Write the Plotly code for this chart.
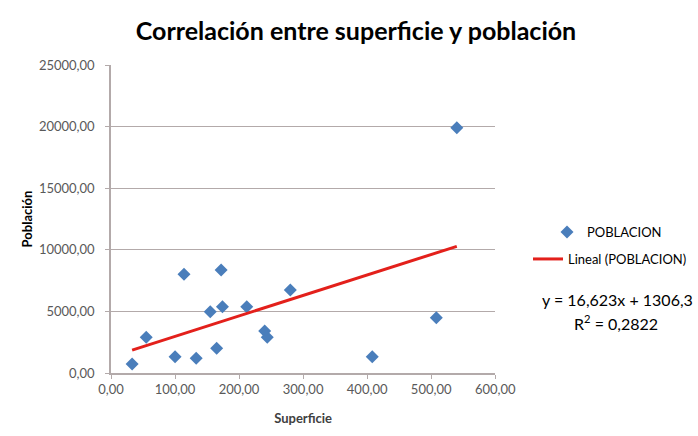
import plotly.graph_objects as go

# Data
superficie = [33, 55, 100, 133, 114, 172, 165, 155, 174, 212, 240, 244, 280, 508, 408, 540]
poblacion = [730, 2900, 1320, 1190, 8010, 8360, 2000, 4980, 5380, 5380, 3410, 2900, 6740, 4490, 1320, 19900]

trend_slope = 16.623
trend_intercept = 1306.3
r_squared = 0.2822

x_ticks = [0, 100, 200, 300, 400, 500, 600]
y_ticks = [0, 5000, 10000, 15000, 20000, 25000]

FONT = "Lato"
GRID = "#b3aaaa"
TICKC = "#595959"

trend_x = [min(superficie), max(superficie)]
trend_y = [trend_slope * v + trend_intercept for v in trend_x]

fig = go.Figure()
fig.add_trace(go.Scatter(
    x=superficie, y=poblacion, mode="markers", name="POBLACION",
    marker=dict(symbol="diamond", size=10, color="#4a7ebb"),
    legend="legend", showlegend=True,
))
fig.add_trace(go.Scatter(
    x=trend_x, y=trend_y, mode="lines", name="Lineal (POBLACION)",
    line=dict(color="#e3201b", width=3),
    legend="legend2", showlegend=True,
))

fig.update_layout(
    width=698, height=436,
    margin=dict(l=111, r=199, t=65, b=63),
    paper_bgcolor="white", plot_bgcolor="white",
    separators=",.",
    showlegend=True,
    font=dict(family=FONT, color=TICKC),
    title=dict(
        text="<b>Correlación entre superficie y población</b>",
        font=dict(family=FONT, size=25, color="#000000"),
        xref="container", x=356 / 698, xanchor="center",
        yref="container", y=1 - 31 / 436, yanchor="middle",
    ),
    xaxis=dict(
        range=[0, 600], tickvals=x_ticks, tickformat=".2f",
        showgrid=False, zeroline=False,
        showline=True, linecolor=GRID, linewidth=1.5,
        ticks="outside", ticklen=4, tickcolor=GRID,
        tickfont=dict(family=FONT, size=13, color=TICKC),
        title=dict(text="<b>Superficie</b>", font=dict(family=FONT, size=13, color="#404040"), standoff=18),
    ),
    yaxis=dict(
        range=[0, 25000], tickvals=y_ticks, tickformat=".2f",
        showgrid=True, gridcolor=GRID, gridwidth=1,
        zeroline=False,
        showline=True, linecolor=GRID, linewidth=1.5,
        ticks="outside", ticklen=4, tickcolor=GRID, ticklabelstandoff=8,
        tickfont=dict(family=FONT, size=13, color=TICKC),
        title=dict(text="<b>Población</b>", font=dict(family=FONT, size=13, color="#000000"), standoff=3),
    ),
    legend=dict(
        xref="container", yref="container", x=547 / 698, y=1 - 232 / 436,
        xanchor="left", yanchor="middle",
        font=dict(family=FONT, size=13, color="#000000"), bgcolor="rgba(0,0,0,0)",
    ),
    legend2=dict(
        xref="container", yref="container", x=528 / 698, y=1 - 259 / 436,
        xanchor="left", yanchor="middle",
        font=dict(family=FONT, size=13, color="#000000"), bgcolor="rgba(0,0,0,0)",
    ),
    annotations=[
        dict(text=f"y = {trend_slope:.3f}x + {trend_intercept:.1f}".replace(".", ","),
             xref="paper", yref="paper", x=(622 - 111) / 388, y=(373 - 299) / 308,
             xanchor="center", yanchor="middle", showarrow=False,
             font=dict(family=FONT, size=16, color="#000000")),
        dict(text=f"R<sup>2</sup> = {r_squared:.4f}".replace(".", ","),
             xref="paper", yref="paper", x=(621 - 111) / 388, y=(373 - 322) / 308,
             xanchor="center", yanchor="middle", showarrow=False,
             font=dict(family=FONT, size=16, color="#000000")),
    ],
)

fig.write_html("out.html", config={"displayModeBar": False},
               post_script="document.body.style.margin='0';")
